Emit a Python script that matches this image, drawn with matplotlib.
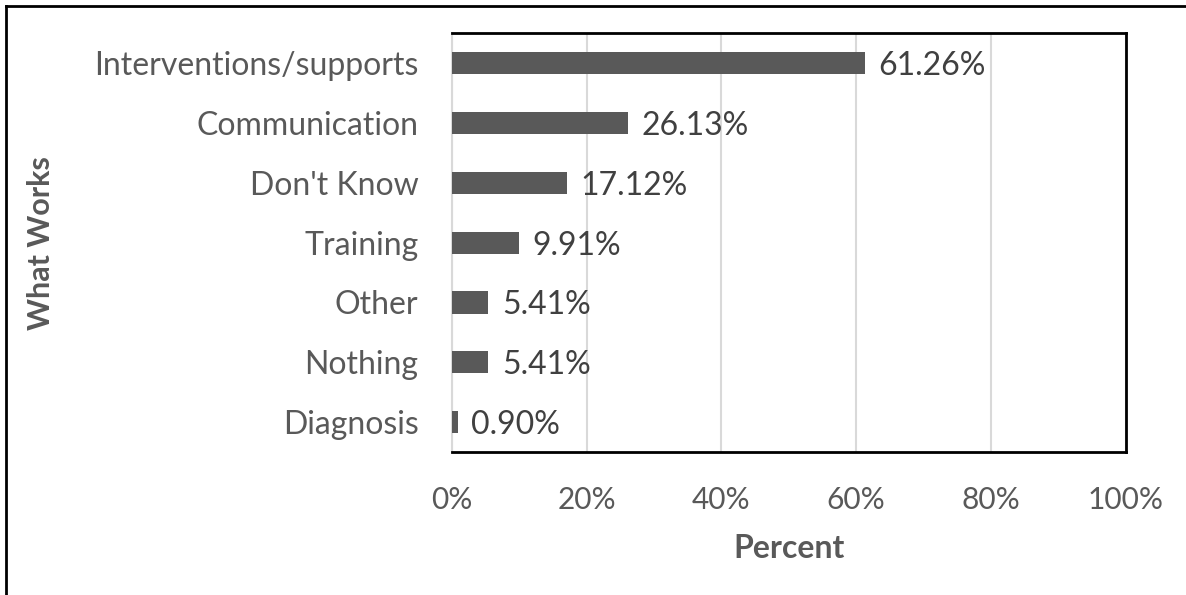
import matplotlib.pyplot as plt
from matplotlib.lines import Line2D

categories = ['Interventions/supports', 'Communication', "Don't Know", 'Training',
              'Other', 'Nothing', 'Diagnosis']
values = [61.26, 26.13, 17.12, 9.91, 5.41, 5.41, 0.90]
xticks = [0, 20, 40, 60, 80, 100]

plt.rcParams['font.family'] = ['Lato', 'DejaVu Sans']
grey = '#595959'

fig = plt.figure(figsize=(11.86, 5.95), dpi=100)
ax = fig.add_axes([0.381, 0.240, 0.568, 0.7045])

y = list(range(len(categories)))
ax.barh(y, values, height=0.37, color=grey, zorder=3)
for yi, v in zip(y, values):
    ax.text(v + 2.0, yi + 0.05, f'{v:.2f}%', va='center', ha='left', fontsize=23, color='#404040')

ax.set_xlim(0, 100)
ax.set_ylim(len(categories) - 0.5, -0.5)
ax.set_yticks(y)
ax.set_yticklabels(categories, fontsize=23, color=grey)
ax.set_xticks(xticks)
ax.set_xticklabels([f'{t}%' for t in xticks], fontsize=21.5, color=grey)
ax.tick_params(length=0)
ax.tick_params(axis='y', pad=24)
ax.tick_params(axis='x', pad=24)
ax.xaxis.grid(True, color='#d9d9d9', linewidth=1.5, zorder=0)

for s in ['top', 'right', 'bottom']:
    ax.spines[s].set_color('black')
    ax.spines[s].set_linewidth(2)
ax.spines['left'].set_color('#d9d9d9')
ax.spines['left'].set_linewidth(1.5)

ax.set_xlabel('Percent', fontsize=23, fontweight='bold', color=grey, labelpad=15)
ax.set_ylabel('What Works', fontsize=22, fontweight='bold', color=grey, labelpad=28)

# outer chart frame
fig.add_artist(Line2D([6 / 1186, 1], [1 - 6 / 595, 1 - 6 / 595], color='black', lw=2,
                      transform=fig.transFigure))
fig.add_artist(Line2D([6 / 1186, 6 / 1186], [0, 1 - 6 / 595], color='black', lw=2,
                      transform=fig.transFigure))

fig.savefig('out.png', dpi=100)
